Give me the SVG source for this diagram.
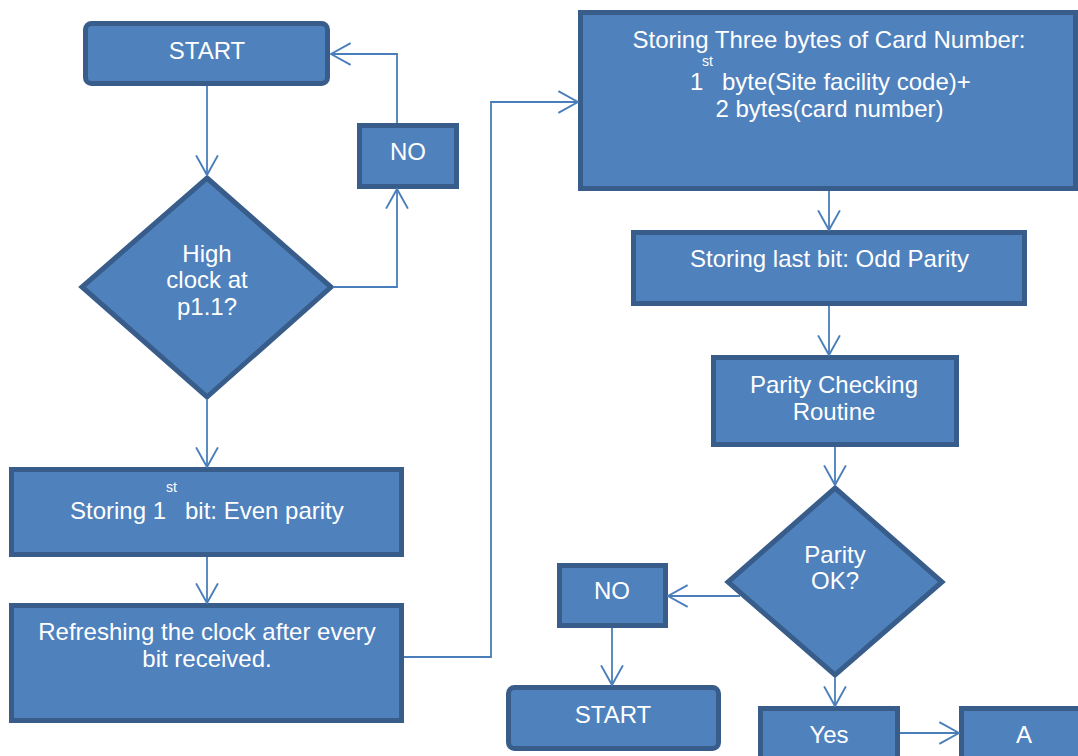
<svg xmlns="http://www.w3.org/2000/svg" width="1078" height="756" viewBox="0 0 1078 756">
<style>
.n{fill:#4F81BD;stroke:#385D8A;stroke-width:5}
.t{font-family:"Liberation Sans",Arial,sans-serif;font-size:24px;fill:#fff;text-anchor:middle}
.s{font-family:"Liberation Sans",Arial,sans-serif;font-size:14px;fill:#fff}
.l{font-family:"Liberation Sans",Arial,sans-serif;font-size:24px;fill:#fff}
.c{fill:none;stroke:#4A7EBB;stroke-width:1.8}
</style>
<defs>
<marker id="ar" markerUnits="userSpaceOnUse" markerWidth="22" markerHeight="24" viewBox="0 0 20 22" refX="19" refY="11" orient="auto">
<path d="M1,1 L19,11 L1,21" fill="none" stroke="#4A7EBB" stroke-width="1.8"/>
</marker>
</defs>
<rect width="1078" height="756" fill="#fff"/>
<g id="start1"><rect class="n" x="85.5" y="23.5" width="242" height="60" rx="6"/><text class="t" x="207" y="59">START</text></g>
<g id="no1"><rect class="n" x="359.5" y="125.5" width="97" height="61"/><text class="t" x="408" y="160">NO</text></g>
<g id="d1"><polygon class="n" points="207,178 331,287 207,397 82,287"/><text class="t" x="207" y="262">High</text><text class="t" x="207" y="288">clock at</text><text class="t" x="207" y="315">p1.1?</text></g>
<g id="store1"><rect class="n" x="11.5" y="469.5" width="390" height="85"/><text class="l" x="70" y="519">Storing 1</text><text class="s" x="166" y="492">st</text><text class="l" x="185" y="519">bit: Even parity</text></g>
<g id="refresh"><rect class="n" x="11.5" y="605.5" width="390" height="115"/><text class="t" x="207" y="640">Refreshing the clock after every</text><text class="t" x="207" y="667">bit received.</text></g>
<g id="big"><rect class="n" x="580.5" y="12.5" width="495" height="176"/><text class="t" x="829" y="48">Storing Three bytes of Card Number:</text><text class="l" x="690" y="90">1</text><text class="s" x="702" y="66">st</text><text class="l" x="722" y="90">byte(Site facility code)+</text><text class="t" x="829.5" y="117">2 bytes(card number)</text></g>
<g id="odd"><rect class="n" x="633.5" y="232.5" width="391" height="71"/><text class="t" x="829.5" y="267">Storing last bit: Odd Parity</text></g>
<g id="pcr"><rect class="n" x="713.5" y="357.5" width="243" height="87"/><text class="t" x="834" y="393">Parity Checking</text><text class="t" x="834" y="420">Routine</text></g>
<g id="d2"><polygon class="n" points="835,488 942,582 835,675 728,582"/><text class="t" x="835" y="563">Parity</text><text class="t" x="835" y="589">OK?</text></g>
<g id="no2"><rect class="n" x="559.5" y="565.5" width="106" height="60"/><text class="t" x="612" y="599">NO</text></g>
<g id="start2"><rect class="n" x="508.5" y="687.5" width="210" height="61" rx="6"/><text class="t" x="613" y="723">START</text></g>
<g id="yes"><rect class="n" x="760.5" y="708.5" width="137" height="60"/><text class="t" x="829" y="743">Yes</text></g>
<g id="a"><rect class="n" x="961.5" y="708.5" width="130" height="60"/><text class="t" x="1024" y="743">A</text></g>
<g id="connectors">
<path class="c" d="M207,86 V175" marker-end="url(#ar)"/>
<path class="c" d="M333,287 H397 V189" marker-end="url(#ar)"/>
<path class="c" d="M397,123 V54 H331" marker-end="url(#ar)"/>
<path class="c" d="M207,400 V467" marker-end="url(#ar)"/>
<path class="c" d="M207,557 V603" marker-end="url(#ar)"/>
<path class="c" d="M404,657 H491 V102 H578" marker-end="url(#ar)"/>
<path class="c" d="M829,191 V230" marker-end="url(#ar)"/>
<path class="c" d="M829,306 V355" marker-end="url(#ar)"/>
<path class="c" d="M835,447 V485" marker-end="url(#ar)"/>
<path class="c" d="M740,596 H668" marker-end="url(#ar)"/>
<path class="c" d="M612,628 V685" marker-end="url(#ar)"/>
<path class="c" d="M835,678 V706" marker-end="url(#ar)"/>
<path class="c" d="M900,733 H959" marker-end="url(#ar)"/>
</g>
</svg>
